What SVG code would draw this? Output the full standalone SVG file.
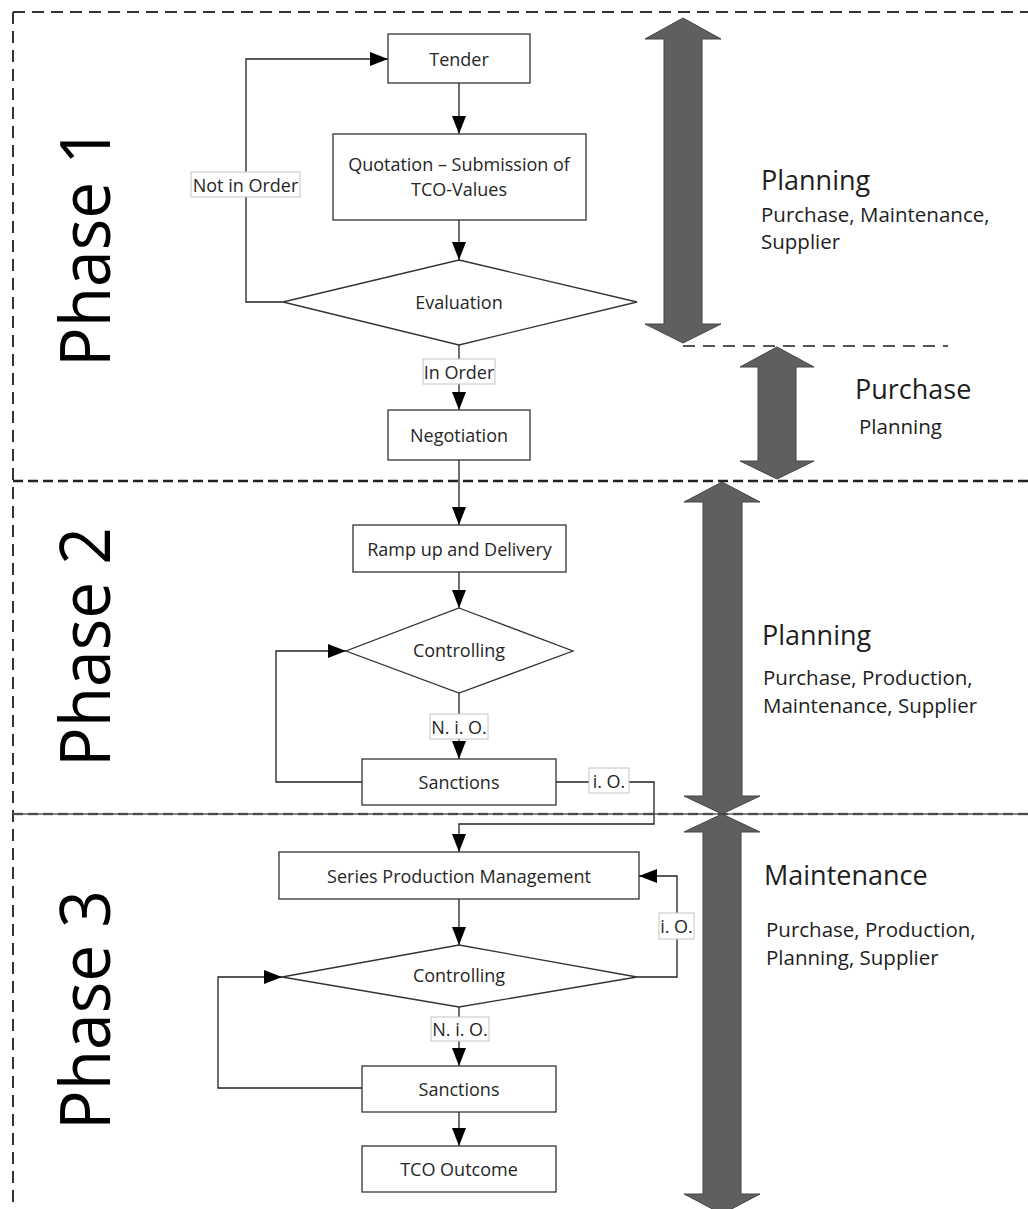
<svg xmlns="http://www.w3.org/2000/svg" width="1028" height="1209" viewBox="0 0 1028 1209">
<style>
  .box{fill:#fff;stroke:#333;stroke-width:1.3}
  .t{font-family:"Open Sans","Liberation Sans",sans-serif;font-size:18px;fill:#262626;text-anchor:middle;dominant-baseline:central}
  .lbl{fill:#fff;stroke:#c4c4c4;stroke-width:1}
  .conn{fill:none;stroke:#222;stroke-width:1.3}
  .big{fill:#5f5f5f;stroke:#444;stroke-width:1}
  .phase{font-family:"Open Sans","Liberation Sans",sans-serif;font-size:70px;fill:#000}
  .h{font-family:"Open Sans","Liberation Sans",sans-serif;font-size:27px;fill:#1e1e1e}
  .s{font-family:"Open Sans","Liberation Sans",sans-serif;font-size:20.5px;fill:#1e1e1e}
  .dash{fill:none;stroke:#333;stroke-width:2;stroke-dasharray:12 7}
</style>
<defs>
  <marker id="ah" markerUnits="userSpaceOnUse" markerWidth="18" markerHeight="14" refX="18" refY="7" orient="auto">
    <path d="M0,0 L18,7 L0,14 z" fill="#000"/>
  </marker>
</defs>

<g id="frame">
  <line class="dash" x1="13" y1="12" x2="1028" y2="12"/>
  <line class="dash" x1="13" y1="12" x2="13" y2="1209"/>
  <line x1="13" y1="481" x2="1028" y2="481" stroke="#222" stroke-width="2.5" stroke-dasharray="10 5"/>
  <line x1="13" y1="814" x2="1028" y2="814" stroke="#888" stroke-width="2.5" stroke-dasharray="10 5"/>
  <line x1="13" y1="814" x2="1028" y2="814" stroke="#111" stroke-width="1.2"/>
  <line x1="683" y1="346" x2="948" y2="346" stroke="#555" stroke-width="2" stroke-dasharray="12 8"/>
</g>

<g id="phase-labels">
  <text class="phase" transform="translate(110,367) rotate(-90)" textLength="240" lengthAdjust="spacingAndGlyphs">Phase 1</text>
  <text class="phase" transform="translate(110,767) rotate(-90)" textLength="240" lengthAdjust="spacingAndGlyphs">Phase 2</text>
  <text class="phase" transform="translate(110,1130) rotate(-90)" textLength="240" lengthAdjust="spacingAndGlyphs">Phase 3</text>
</g>

<g id="big-arrows">
  <polygon id="arrow-planning-1" class="big" points="683,18 721,39 702,39 702,324 721,324 683,343 645,324 664,324 664,39 645,39"/>
  <polygon id="arrow-purchase" class="big" points="777,347 814,367 796,367 796,461 814,461 777,479 740,461 758,461 758,367 740,367"/>
  <polygon id="arrow-planning-2" class="big" points="722,482 760,502 742,502 742,796 760,796 722,814 684,796 703,796 703,502 684,502"/>
  <polygon id="arrow-maintenance" class="big" points="722,814 760,832 741,832 741,1194 760,1194 722,1214 684,1194 703,1194 703,832 684,832"/>
</g>

<g id="side-texts">
  <text class="h" x="761" y="190">Planning</text>
  <text class="s" x="761" y="222">Purchase, Maintenance,</text>
  <text class="s" x="761" y="249">Supplier</text>
  <text class="h" x="855" y="399">Purchase</text>
  <text class="s" x="859" y="434">Planning</text>
  <text class="h" x="762" y="645">Planning</text>
  <text class="s" x="763" y="685">Purchase, Production,</text>
  <text class="s" x="763" y="713">Maintenance, Supplier</text>
  <text class="h" x="764" y="885">Maintenance</text>
  <text class="s" x="766" y="937">Purchase, Production,</text>
  <text class="s" x="766" y="965">Planning, Supplier</text>
</g>

<g id="connectors">
  <path class="conn" d="M459,83 V134" marker-end="url(#ah)"/>
  <path class="conn" d="M459,220 V260" marker-end="url(#ah)"/>
  <path class="conn" d="M283,302 H246 V59 H388" marker-end="url(#ah)"/>
  <path class="conn" d="M459,345 V410" marker-end="url(#ah)"/>
  <path class="conn" d="M459,460 V525" marker-end="url(#ah)"/>
  <path class="conn" d="M459,572 V608" marker-end="url(#ah)"/>
  <path class="conn" d="M459,693 V759" marker-end="url(#ah)"/>
  <path class="conn" d="M362,782 H276 V651 H346" marker-end="url(#ah)"/>
  <path class="conn" d="M556,782 H654 V824 H459 V852" marker-end="url(#ah)"/>
  <path class="conn" d="M459,899 V945" marker-end="url(#ah)"/>
  <path class="conn" d="M637,977 H677 V876 H639" marker-end="url(#ah)"/>
  <path class="conn" d="M459,1007 V1066" marker-end="url(#ah)"/>
  <path class="conn" d="M362,1088 H218 V977 H282" marker-end="url(#ah)"/>
  <path class="conn" d="M459,1112 V1146" marker-end="url(#ah)"/>
  <g id="conn-labels">
    <rect class="lbl" x="191" y="172" width="109" height="25"/>
    <text class="t" x="245.5" y="184.5">Not in Order</text>
    <rect class="lbl" x="423" y="359" width="72" height="25"/>
    <text class="t" x="459" y="371.5">In Order</text>
    <rect class="lbl" x="430" y="714" width="58" height="25"/>
    <text class="t" x="459" y="726.5">N. i. O.</text>
    <rect class="lbl" x="589" y="768" width="40" height="25"/>
    <text class="t" x="609" y="780.5">i. O.</text>
    <rect class="lbl" x="659" y="913" width="35" height="26"/>
    <text class="t" x="676.5" y="926">i. O.</text>
    <rect class="lbl" x="431" y="1017" width="58" height="24"/>
    <text class="t" x="460" y="1029">N. i. O.</text>
  </g>
</g>

<g id="tender"><rect class="box" x="388" y="34" width="142" height="49"/><text class="t" x="459" y="58.5">Tender</text></g>
<g id="quotation"><rect class="box" x="333" y="134" width="253" height="86"/><text class="t" x="459" y="164">Quotation – Submission of</text><text class="t" x="459" y="189">TCO-Values</text></g>
<g id="evaluation"><polygon class="box" points="459,260 637,302 459,345 283,302"/><text class="t" x="459" y="302">Evaluation</text></g>
<g id="negotiation"><rect class="box" x="388" y="410" width="142" height="50"/><text class="t" x="459" y="435">Negotiation</text></g>
<g id="ramp-up"><rect class="box" x="353" y="525" width="213" height="47"/><text class="t" x="459.5" y="548.5">Ramp up and Delivery</text></g>
<g id="controlling-1"><polygon class="box" points="459,608 573,651 459,693 346,651"/><text class="t" x="459" y="650">Controlling</text></g>
<g id="sanctions-1"><rect class="box" x="362" y="759" width="194" height="46"/><text class="t" x="459" y="782">Sanctions</text></g>
<g id="series-production"><rect class="box" x="279" y="852" width="360" height="47"/><text class="t" x="459" y="875.5">Series Production Management</text></g>
<g id="controlling-2"><polygon class="box" points="459,945 637,977 459,1007 282,977"/><text class="t" x="459" y="975">Controlling</text></g>
<g id="sanctions-2"><rect class="box" x="362" y="1066" width="194" height="46"/><text class="t" x="459" y="1089">Sanctions</text></g>
<g id="tco-outcome"><rect class="box" x="362" y="1146" width="194" height="46"/><text class="t" x="459" y="1169">TCO Outcome</text></g>
</svg>
